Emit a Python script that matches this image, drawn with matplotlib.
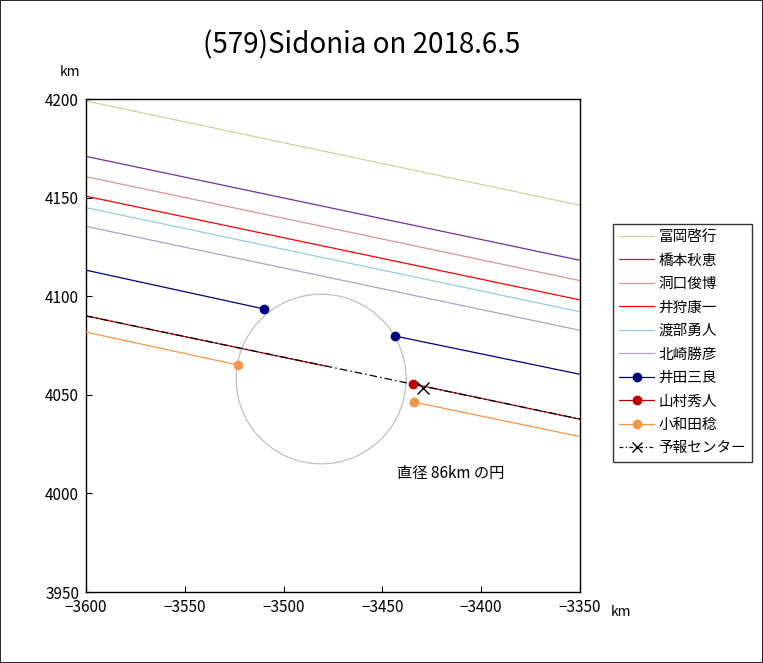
import numpy as np
import matplotlib
matplotlib.use("Agg")
import matplotlib.pyplot as plt
from matplotlib.lines import Line2D
from matplotlib.patches import Rectangle

plt.rcParams['font.family'] = ['Noto Sans CJK JP', 'DejaVu Sans']
plt.rcParams['axes.unicode_minus'] = True

# ---- data ----
x_edges = [-3600, -3350]

miss_names = ['冨岡啓行', '橋本秋恵', '洞口俊博', '井狩康一', '渡部勇人', '北崎勝彦']
miss_left = [4199.0, 4170.9, 4160.6, 4150.7, 4144.9, 4135.4]
miss_right = [4146.1, 4118.2, 4107.9, 4098.1, 4092.1, 4082.7]
miss_colors = ['#C4D79B', '#7030A0', '#DA9694', '#FF0000', '#92CDDC', '#B1A0C7']

hit_names = ['井田三良', '山村秀人', '小和田稔']
hit_colors = ['#000080', '#C00000', '#F79646']
# segment before disappearance (x, y) and after reappearance (x, y)
hit_seg1_x = [[-3600, -3509.8], [-3600, -3479.0], [-3600, -3523.1]]
hit_seg1_y = [[4113.2, 4093.5], [4090.0, 4064.6], [4081.8, 4065.1]]
hit_seg1_marker = [True, False, True]
hit_seg2_x = [[-3443.6, -3350], [-3434.5, -3350], [-3434.0, -3350]]
hit_seg2_y = [[4079.8, 4060.4], [4055.5, 4037.6], [4046.3, 4028.8]]

center_name = '予報センター'
center_line_x = [-3600, -3350]
center_line_y = [4090.0, 4037.7]
center_pt = (-3429.5, 4053.4)

circle_center = (-3481.0, 4058.0)
circle_diameter = 86

title = '(579)Sidonia on 2018.6.5'
xticks = [-3600, -3550, -3500, -3450, -3400, -3350]
yticks = [3950, 4000, 4050, 4100, 4150, 4200]

# ---- figure ----
W, H = 763, 663
fig = plt.figure(figsize=(W / 100, H / 100), dpi=100)
fig.patches.append(Rectangle((0, 0), 1, 1, transform=fig.transFigure,
                             fill=False, edgecolor='black', linewidth=1.2))
ax = fig.add_axes([86 / W, 1 - 592 / H, (580 - 86) / W, (592 - 99) / H])
ax.set_xlim(-3600, -3350)
ax.set_ylim(3950, 4200)

handles = []
for n, l, r, c in zip(miss_names, miss_left, miss_right, miss_colors):
    ax.plot(x_edges, [l, r], color=c, lw=0.9, zorder=2)
    handles.append(Line2D([], [], color=c, lw=0.9, label=n))

# circle
t = np.linspace(0, 2 * np.pi, 400)
rad = circle_diameter / 2
ax.plot(circle_center[0] + rad * np.cos(t), circle_center[1] + rad * np.sin(t),
        color='#C0C0C0', lw=0.9, zorder=1)

for i, (n, c) in enumerate(zip(hit_names, hit_colors)):
    x1, y1 = hit_seg1_x[i], hit_seg1_y[i]
    x2, y2 = hit_seg2_x[i], hit_seg2_y[i]
    ax.plot(x1, y1, color=c, lw=0.9, zorder=3)
    if hit_seg1_marker[i]:
        ax.plot([x1[1]], [y1[1]], 'o', color=c, ms=6, zorder=5)
    ax.plot(x2, y2, color=c, lw=0.9, zorder=3)
    ax.plot([x2[0]], [y2[0]], 'o', color=c, ms=6, zorder=5)
    handles.append(Line2D([], [], color=c, lw=0.9, marker='o', ms=6, label=n))

ax.plot(center_line_x, center_line_y, color='black', lw=0.9,
        linestyle=(0, (6, 2.5, 1.2, 2.5)), zorder=4)
ax.plot([center_pt[0]], [center_pt[1]], marker='x', color='black', ms=8,
        mew=1.0, zorder=6)
handles.append(Line2D([], [], color='black', lw=0.9, linestyle=(0, (3, 2, 1, 2)),
                      marker='x', ms=7, label=center_name))

ax.text(-3442.6, 4010.3, '直径 86km の円', fontsize=11, va='center', ha='left')

ax.set_xticks(xticks)
ax.set_yticks(yticks)
ax.set_xticklabels([f'{v:d}'.replace('-', '\u2212') for v in xticks])
ax.tick_params(direction='in', length=4, width=0.8, labelsize=11, pad=5,
               colors='black')
for s in ax.spines.values():
    s.set_linewidth(1.0)
    s.set_color('black')

fig.text(362 / W, 1 - 45 / H, title, fontsize=20, ha='center', va='center')
fig.text(70 / W, 1 - 72 / H, 'km', fontsize=10, ha='center', va='center')
fig.text(621 / W, 1 - 612 / H, 'km', fontsize=10, ha='center', va='center')

leg = fig.legend(handles=handles, loc='upper left',
                 bbox_to_anchor=(613 / W, 1 - 224 / H), fontsize=10.5,
                 frameon=True, fancybox=False, edgecolor='black',
                 borderpad=0.42, labelspacing=0.65, handlelength=2.4,
                 handletextpad=0.3, borderaxespad=0)
leg.get_frame().set_linewidth(1.0)

fig.savefig('out.png', dpi=100)
